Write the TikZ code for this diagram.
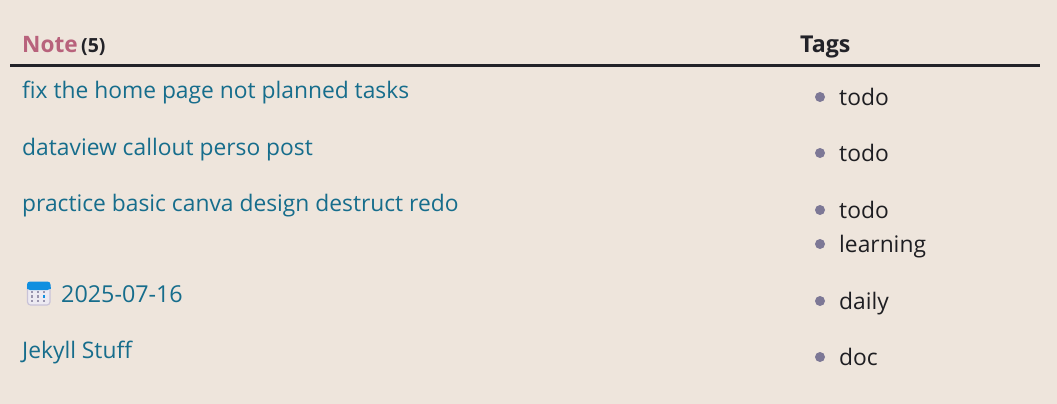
\documentclass[tikz,border=0pt]{standalone}
\usepackage{fontspec}
\setmainfont{Open Sans}
\definecolor{pagebg}{HTML}{EEE5DC}
\definecolor{linkcol}{HTML}{166D8C}
\definecolor{notecol}{HTML}{B8627C}
\definecolor{headcol}{HTML}{222228}
\definecolor{bulletcol}{HTML}{7D7896}
\definecolor{tagcol}{HTML}{1E1E22}
\definecolor{calblue}{HTML}{0F8FE0}
\definecolor{calface}{HTML}{EDEAF2}
\definecolor{caledge}{HTML}{C9C3D8}
\definecolor{caldot}{HTML}{9A95AE}
\tikzset{
  link/.style={anchor=base west,inner sep=0pt,text=linkcol,font=\fontsize{22.8}{28}\selectfont},
  tagtext/.style={anchor=base west,inner sep=0pt,text=tagcol,font=\fontsize{22.8}{28}\selectfont},
  head/.style={anchor=base west,inner sep=0pt,text=headcol,font=\fontsize{23.2}{26}\selectfont\bfseries},
  bullet/.style={circle,fill=bulletcol,inner sep=0pt,minimum size=10pt}
}
\begin{document}
\begin{tikzpicture}[x=1pt,y=-1pt]
  \useasboundingbox [fill=pagebg] (0,0) rectangle (1057,404);
  % header
  \node [head,text=notecol,font=\fontsize{22.6}{28}\selectfont\bfseries] (note) at (22,52.7) {Note};
  \node [head,font=\fontsize{19.5}{22}\selectfont\bfseries] (count) at (81,52.7) {(5)};
  \node [head] (tags) at (800,52.7) {Tags};
  \coordinate (ruleL) at (10,65.5);
  \coordinate (ruleR) at (1040,65.5);
  \draw [headcol,line width=3pt] (ruleL) -- (ruleR);
  % notes
  \node [link] (n1) at (22,98) {fix the home page not planned tasks};
  \node [link] (n2) at (22,155) {dataview callout perso post};
  \node [link] (n3) at (22,211) {practice basic canva design destruct redo};
  \node [link,font=\fontsize{23.3}{28}\selectfont] (n4) at (61,302) {2025-07-16};
  \node [link] (n5) at (22,358) {Jekyll Stuff};
  % calendar icon
  \filldraw [rounded corners=3pt,fill=calface,draw=caledge,line width=1.2pt] (27.5,283) rectangle (50,305);
  \fill [rounded corners=3pt,fill=calblue] (27,281.5) rectangle (50.5,290);
  \fill [calblue] (27,287) rectangle (50.5,288.5);
  \foreach \x in {32,38,44} \foreach \y in {292,296.5,301}
    \fill [caldot] (\x-1.3,\y-1.2) rectangle (\x+1.3,\y+1.2);
  \fill [calblue] (42.7,295.3) rectangle (45.3,297.7);
  % tags
  \foreach \name/\y/\t in {a/105/todo,b/161/todo,c/218/todo,d/252/learning,e/309/daily,f/365/doc} {
    \node [tagtext] (t\name) at (839,\y) {\t};
    \node [bullet] (b\name) at (820,\y-8) {};
  }
\end{tikzpicture}
\end{document}
